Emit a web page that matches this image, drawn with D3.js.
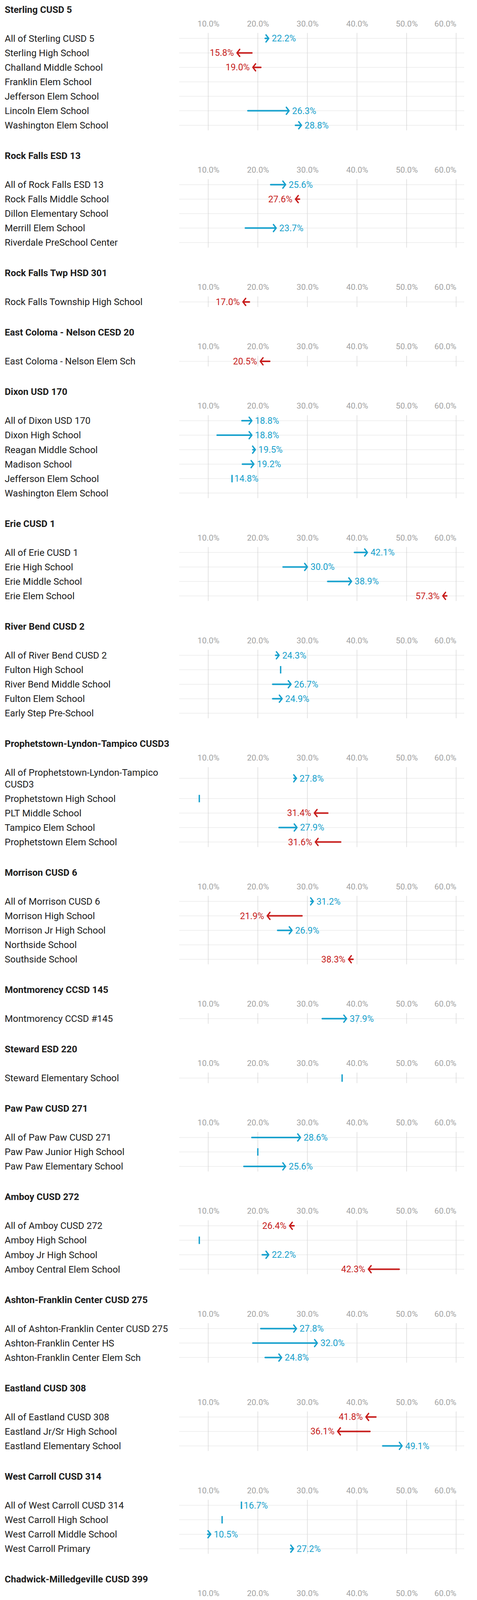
<!DOCTYPE html>
<html><head><meta charset="utf-8">
<script src="https://cdn.jsdelivr.net/npm/d3@7"></script>
<style>body{margin:0;background:#fff;} svg{display:block;font-family:Roboto,'Noto Sans',sans-serif;}</style>
</head><body><svg id="c" width="1220" height="6508"></svg>
<script>
const districts = ["Sterling CUSD 5","Rock Falls ESD 13","Rock Falls Twp HSD 301","East Coloma - Nelson CESD 20","Dixon USD 170","Erie CUSD 1","River Bend CUSD 2","Prophetstown-Lyndon-Tampico CUSD3","Morrison CUSD 6","Montmorency CCSD 145","Steward ESD 220","Paw Paw CUSD 271","Amboy CUSD 272","Ashton-Franklin Center CUSD 275","Eastland CUSD 308","West Carroll CUSD 314","Chadwick-Milledgeville CUSD 399","Kings Cons SD 144","Creston CCSD 161","Rochelle Twp HSD 212","Oregon CUSD 220","Forrestville Valley CUSD 221","Polo CUSD 222","Meridian CUSD 223","Byron CUSD 226","Rochelle CCSD 231","Eswood CCSD 269"];

const schools = [
 ["All of Sterling CUSD 5","Sterling High School","Challand Middle School","Franklin Elem School","Jefferson Elem School","Lincoln Elem School","Washington Elem School"],
 ["All of Rock Falls ESD 13","Rock Falls Middle School","Dillon Elementary School","Merrill Elem School","Riverdale PreSchool Center"],
 ["Rock Falls Township High School"],
 ["East Coloma - Nelson Elem Sch"],
 ["All of Dixon USD 170","Dixon High School","Reagan Middle School","Madison School","Jefferson Elem School","Washington Elem School"],
 ["All of Erie CUSD 1","Erie High School","Erie Middle School","Erie Elem School"],
 ["All of River Bend CUSD 2","Fulton High School","River Bend Middle School","Fulton Elem School","Early Step Pre-School"],
 ["All of Prophetstown-Lyndon-Tampico CUSD3","Prophetstown High School","PLT Middle School","Tampico Elem School","Prophetstown Elem School"],
 ["All of Morrison CUSD 6","Morrison High School","Morrison Jr High School","Northside School","Southside School"],
 ["Montmorency CCSD #145"],
 ["Steward Elementary School"],
 ["All of Paw Paw CUSD 271","Paw Paw Junior High School","Paw Paw Elementary School"],
 ["All of Amboy CUSD 272","Amboy High School","Amboy Jr High School","Amboy Central Elem School"],
 ["All of Ashton-Franklin Center CUSD 275","Ashton-Franklin Center HS","Ashton-Franklin Center Elem Sch"],
 ["All of Eastland CUSD 308","Eastland Jr/Sr High School","Eastland Elementary School"],
 ["All of West Carroll CUSD 314","West Carroll High School","West Carroll Middle School","West Carroll Primary"],
 ["All of Chadwick-Milledgeville CUSD 399","Chadwick-Milledgeville Jr/Sr High School","Chadwick-Milledgeville Elem School"],
 ["Kings Elementary School"],
 ["Creston Elem School"],
 ["Rochelle Twp High School"],
 ["All of Oregon CUSD 220","Oregon Jr/Sr High School","Oregon Elem Sch"],
 ["All of Forrestville Valley CUSD 221","Forreston Jr/Sr High Sch","German Valley Grade School","Forreston Grade School"],
 ["All of Polo CUSD 222","Polo Comm High School","Aplington Middle School","Centennial Elem School"],
 ["All of Meridian CUSD 223","Stillman Valley High School","Meridian Jr High School","Highland Elem School","Monroe Center Grade School"],
 ["All of Byron CUSD 226","Byron High School 9-12","Byron Middle School","Mary Morgan Elem Sch"],
 ["All of Rochelle CCSD 231","Rochelle Middle School","Central Elem School","Lincoln Elem School","Tilton Elem School"],
 ["Eswood C C Grade School"]
];

const startValues = [
 [21.5,18.8,20.6,null,null,18.0,27.6],
 [22.6,28.4,null,17.5,null],
 [18.3],
 [22.4],
 [16.8,11.8,19.0,16.9,14.8,null],
 [39.5,25.1,34.1,58.1],
 [23.6,24.6,23.0,23.0,null],
 [27.3,8.2,34.1,24.3,36.7],
 [30.7,28.9,24.0,null,39.2],
 [33.0],
 [37.0],
 [18.8,20.0,17.2],
 [27.3,8.2,20.9,48.5],
 [20.6,19.0,21.5],
 [43.8,42.6,45.2],
 [16.7,12.8,9.9,26.6],
 [32.4,24.7,42.4],
 [35.9],
 [44.6],
 [21.2],
 [29.8,21.1,37.2],
 [31.3,31.8,null,30.8],
 [25.5,11.2,16.3,41.0],
 [25.8,23.5,18.2,null,33.5],
 [35.5,31.1,24.4,48.9],
 [12.1,13.4,9.4,null,11.7],
 [23.5]
];

const endValues = [
 [22.2,15.8,19.0,null,null,26.3,28.8],
 [25.6,27.6,null,23.7,null],
 [17.0],
 [20.5],
 [18.8,18.8,19.5,19.2,14.8,null],
 [42.1,30.0,38.9,57.3],
 [24.3,null,26.7,24.9,null],
 [27.8,null,31.4,27.9,31.6],
 [31.2,21.9,26.9,null,38.3],
 [37.9],
 [null],
 [28.6,null,25.6],
 [26.4,null,22.2,42.3],
 [27.8,32.0,24.8],
 [41.8,36.1,49.1],
 [16.7,null,10.5,27.2],
 [38.5,30.5,47.4],
 [43.4],
 [55.8],
 [20.4],
 [33.7,23.9,42.2],
 [33.4,31.0,null,37.4],
 [33.8,null,20.0,53.4],
 [27.4,29.2,26.3,null,28.0],
 [37.8,36.8,31.3,46.1],
 [12.8,15.9,10.1,null,9.2],
 [48.0]
];

const tickValues = [10,20,30,40,50,60];
const footerText = "Created with Datawrapper";

const W = 1220, H = 6508;
const BLUE = "#18a1cd", RED = "#c71e1d";
const ROW_H = 37.05, LINE_H = 29.5, LABEL_MAX = 452;
const svg = d3.select("#c");
svg.append("rect").attr("width", W).attr("height", H).attr("fill", "#fff");
const x = d3.scaleLinear().domain([4.2, 61.6]).range([459, 1187]);
const fmt = d => d.toFixed(1) + "%";

function wrapLines(text, size, weight) {
  const t = svg.append("text").attr("font-size", size).attr("font-weight", weight);
  const words = text.split(" ");
  const lines = [];
  let cur = "";
  words.forEach(w => {
    const test = cur ? cur + " " + w : w;
    t.text(test);
    if (t.node().getComputedTextLength() > LABEL_MAX && cur) { lines.push(cur); cur = w; }
    else cur = test;
  });
  lines.push(cur);
  t.remove();
  return lines;
}

let T = 24.3;
districts.forEach((name, di) => {
  const g = svg.append("g");
  g.append("text").attr("x", 12).attr("y", T).attr("dy", "0.35em")
    .attr("font-size", 24).attr("font-weight", 700).attr("fill", "#1d1d1d").text(name);

  const axis = d3.axisTop(x).tickValues(tickValues).tickFormat(fmt).tickSize(0).tickPadding(0);
  const ag = g.append("g").attr("transform", `translate(0,${T + 36})`).call(axis);
  ag.select(".domain").remove();
  ag.selectAll("text").attr("dy", "0.35em").attr("font-size", 21).attr("fill", "#a3a3a3")
    .attr("font-family", "Roboto, sans-serif")
    .attr("text-anchor", (d, i) => i === tickValues.length - 1 ? "end" : "middle");

  let top = T + 55.5;
  const rows = schools[di].map((s, i) => {
    const lines = wrapLines(s, 24, 400);
    const h = ROW_H + (lines.length - 1) * LINE_H;
    const r = { lines, cy: top + h / 2, s: startValues[di][i], e: endValues[di][i] };
    top += h;
    return r;
  });
  const gridTop = T + 60, gridBottom = top - 5.5;

  g.append("g").selectAll("line").data(tickValues).join("line")
    .attr("x1", d => x(d)).attr("x2", d => x(d)).attr("y1", gridTop).attr("y2", gridBottom)
    .attr("stroke", "#e3e3e3").attr("stroke-width", 2);

  rows.forEach(r => {
    g.append("line").attr("x1", x.range()[0]).attr("x2", x.range()[1]).attr("y1", r.cy).attr("y2", r.cy)
      .attr("stroke", "#d6d6d6").attr("stroke-width", 1.5).attr("stroke-dasharray", "1.5,1.5");
    const lt = g.append("text").attr("x", 12).attr("font-size", 24).attr("fill", "#1d1d1d");
    const y0 = r.cy - (r.lines.length - 1) * LINE_H / 2;
    r.lines.forEach((ln, k) => lt.append("tspan").attr("x", 12).attr("y", y0 + k * LINE_H).attr("dy", "0.35em").text(ln));

    if (r.s == null && r.e == null) return;
    if (r.e == null || r.s === r.e) {
      const v = r.e == null ? r.s : r.e;
      g.append("line").attr("x1", x(v)).attr("x2", x(v)).attr("y1", r.cy - 9.5).attr("y2", r.cy + 9.5)
        .attr("stroke", BLUE).attr("stroke-width", 3.5);
      if (r.e != null) {
        g.append("text").attr("x", x(v) + 6).attr("y", r.cy).attr("dy", "0.35em").attr("font-size", 23)
          .attr("fill", BLUE).text(fmt(v));
      }
      return;
    }
    const up = r.e > r.s;
    const col = up ? BLUE : RED;
    const xs = x(r.s), xe = x(r.e), dir = up ? 1 : -1;
    g.append("line").attr("x1", xs).attr("x2", xe - dir * 2).attr("y1", r.cy).attr("y2", r.cy)
      .attr("stroke", col).attr("stroke-width", 4).attr("stroke-linecap", "round");
    g.append("path").attr("d", `M${xe - dir * 7},${r.cy - 9} L${xe},${r.cy} L${xe - dir * 7},${r.cy + 9}`)
      .attr("fill", "none").attr("stroke", col).attr("stroke-width", 3.5).attr("stroke-linecap", "round").attr("stroke-linejoin", "round");
    g.append("text").attr("x", xe + dir * 8).attr("y", r.cy).attr("dy", "0.35em").attr("font-size", 23)
      .attr("text-anchor", up ? "start" : "end").attr("fill", col).text(fmt(r.e));
  });

  T = top + 59.5;
});

svg.append("text").attr("x", 10).attr("y", 6485).attr("dy", "0.35em").attr("font-size", 21)
  .attr("fill", "#9a9a9a").text(footerText);
</script>
</body></html>
